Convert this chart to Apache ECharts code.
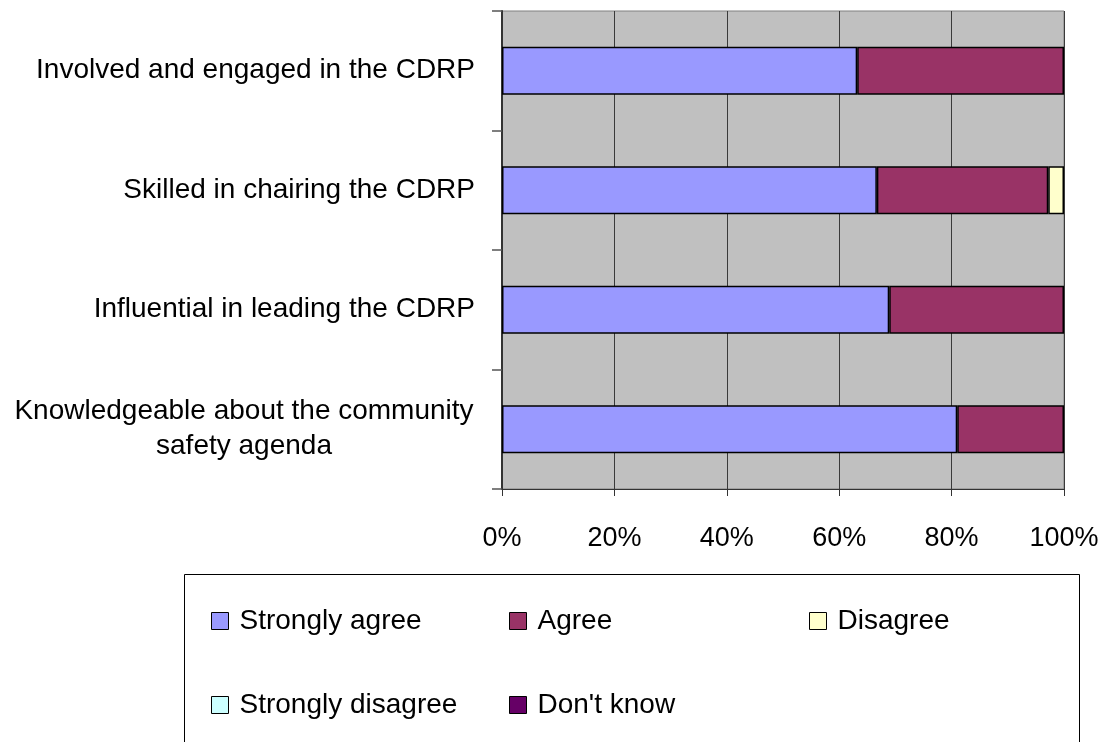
<!DOCTYPE html>
<html>
<head>
<meta charset="utf-8">
<title>Views on the CDRP chair</title>
<script src="https://cdn.jsdelivr.net/npm/echarts@6/dist/echarts.min.js"></script>
<style>
  html, body { margin: 0; padding: 0; background: #ffffff; }
  #chart { width: 1104px; height: 742px; }
</style>
</head>
<body>
<div id="chart"></div>
<script>
// Statements rated, top to bottom
const categories = [
  'Involved and engaged in the CDRP',
  'Skilled in chairing the CDRP',
  'Influential in leading the CDRP',
  'Knowledgeable about the community\nsafety agenda'
];

// Share of responses (%) per statement
const stronglyAgree    = [63.2, 66.7, 68.9, 81.0];
const agree            = [36.8, 30.5, 31.1, 19.0];
const disagree         = [0, 2.8, 0, 0];
const stronglyDisagree = [0, 0, 0, 0];
const dontKnow         = [0, 0, 0, 0];

const xTicks = [0, 20, 40, 60, 80, 100];

const seriesNames  = ['Strongly agree', 'Agree', 'Disagree', 'Strongly disagree', "Don't know"];
const seriesValues = [stronglyAgree, agree, disagree, stronglyDisagree, dontKnow];
const seriesColors = ['#9999FF', '#993366', '#FFFFCC', '#CCFFFF', '#660066'];

const FONT = '"Liberation Sans", Arial, sans-serif';

const series = seriesNames.map((name, i) => ({
  name: name,
  type: 'bar',
  stack: 'total',
  barWidth: '40%',
  data: seriesValues[i].map(v => (v === 0 ? '-' : v)),
  itemStyle: { color: seriesColors[i], borderColor: '#000000', borderWidth: 1.5 },
  emphasis: { disabled: true }
}));

// Legend laid out on a fixed grid: three columns, two rows
const legendPos = [
  { left: 211, top: 607 },
  { left: 509, top: 607 },
  { left: 809, top: 607 },
  { left: 211, top: 691 },
  { left: 509, top: 691 }
];
const legends = seriesNames.map((name, i) => ({
  data: [name],
  left: legendPos[i].left,
  top: legendPos[i].top,
  padding: 0,
  icon: 'rect',
  itemWidth: 17,
  itemHeight: 17,
  itemStyle: { borderColor: '#000000', borderWidth: 1 },
  selectedMode: false,
  textStyle: { fontFamily: FONT, fontSize: 28, color: '#000000', padding: [0, 0, 0, 6] }
}));

const chart = echarts.init(document.getElementById('chart'), null, { renderer: 'canvas' });

chart.setOption({
  animation: false,
  backgroundColor: '#ffffff',
  grid: {
    left: 502, right: 40, top: 11, bottom: 253,
    show: true,
    backgroundColor: '#C0C0C0',
    borderColor: '#808080',
    borderWidth: 1
  },
  xAxis: {
    type: 'value',
    min: xTicks[0],
    max: xTicks[xTicks.length - 1],
    interval: xTicks[1] - xTicks[0],
    axisLine: { show: true, lineStyle: { color: '#333333', width: 1 } },
    axisTick: { show: true, length: 7, lineStyle: { color: '#333333' } },
    splitLine: { show: true, lineStyle: { color: '#3a3a3a', width: 1 } },
    axisLabel: {
      margin: 36,
      fontFamily: FONT,
      fontSize: 27,
      color: '#000000',
      formatter: '{value}%'
    }
  },
  yAxis: {
    type: 'category',
    data: categories,
    inverse: true,
    axisLine: { show: true, lineStyle: { color: '#333333', width: 2 } },
    axisTick: { show: true, length: 10, alignWithLabel: false, lineStyle: { color: '#555555', width: 1.5 } },
    splitLine: { show: false },
    axisLabel: {
      margin: 27,
      fontFamily: FONT,
      fontSize: 28,
      color: '#000000',
      lineHeight: 35,
      formatter: function (value) {
        if (value.indexOf('\n') < 0) return value;
        return value.split('\n').map(s => '{c|' + s + '}').join('\n');
      },
      rich: {
        c: { width: 462, align: 'center', fontFamily: FONT, fontSize: 28, lineHeight: 35, color: '#000000' }
      }
    }
  },
  legend: legends,
  graphic: [{
    type: 'rect',
    silent: true,
    shape: { x: 184.5, y: 574.5, width: 895, height: 200 },
    style: { fill: 'none', stroke: '#000000', lineWidth: 1 }
  }],
  series: series
});
</script>
</body>
</html>
